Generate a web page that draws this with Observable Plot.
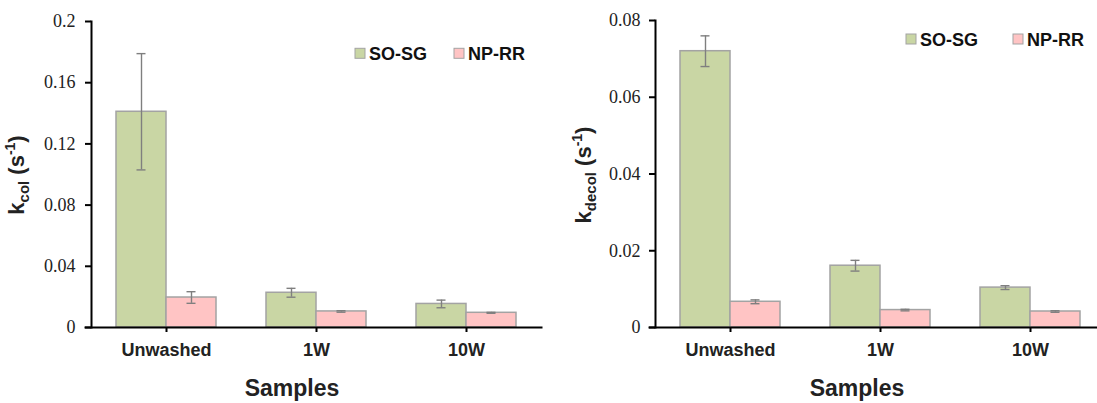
<!DOCTYPE html>
<html><head><meta charset="utf-8">
<script src="https://cdn.jsdelivr.net/npm/d3@7"></script>
<script src="https://cdn.jsdelivr.net/npm/@observablehq/plot@0.6"></script>
<style>
body{margin:0;background:#fff;overflow:hidden}
#wrap{display:flex;width:1097px;height:403px;overflow:hidden}
#left{width:548px;height:403px;overflow:hidden;flex:none}
#right{width:549px;height:403px;overflow:hidden;flex:none}
svg{max-width:none !important}
</style></head><body>
<div id="wrap"><div id="left"></div><div id="right"></div></div>
<script>
const samples = ["Unwashed", "1W", "10W"];
const series = ["SO-SG", "NP-RR"];
const colors = ["#c9d6a4", "#ffc4c4"];
const kcolSOSG = [0.141, 0.0227, 0.0154];
const kcolSOSGErr = [0.038, 0.0029, 0.0025];
const kcolNPRR = [0.0196, 0.0105, 0.0096];
const kcolNPRRErr = [0.0038, 0.0005, 0.0003];
const kdecolSOSG = [0.072, 0.0161, 0.0104];
const kdecolSOSGErr = [0.0040, 0.0014, 0.0005];
const kdecolNPRR = [0.0067, 0.00454, 0.00417];
const kdecolNPRRErr = [0.0005, 0.0002, 0.0002];
const kcolTicks = [0, 0.04, 0.08, 0.12, 0.16, 0.2];
const kdecolTicks = [0, 0.02, 0.04, 0.06, 0.08];

function makeRows(a, aErr, b, bErr) {
  const rows = [];
  samples.forEach((s, i) => {
    rows.push({sample: s, series: series[0], value: a[i], err: aErr[i]});
    rows.push({sample: s, series: series[1], value: b[i], err: bErr[i]});
  });
  return rows;
}

const SANS = "Liberation Sans, Arial, sans-serif";

function chart(o) {
  const plot = Plot.plot({
    width: o.width, height: 403,
    marginLeft: o.marginLeft, marginRight: o.marginRight, marginTop: o.marginTop, marginBottom: 76,
    style: {background: "white", overflow: "visible", maxWidth: "none"},
    fx: {domain: samples, padding: 0, label: null},
    x: {domain: series, paddingInner: 0, paddingOuter: 0.5, axis: null},
    y: {domain: [0, o.ymax], axis: null},
    color: {domain: series, range: colors},
    marks: [
      Plot.barY(o.rows, {fx: "sample", x: "series", y: "value", fill: "series", stroke: "#a3a3a3", strokeWidth: 1.5}),
      Plot.ruleX(o.rows, {fx: "sample", x: "series", y1: d => d.value - d.err, y2: d => d.value + d.err, stroke: "#7f7f7f", strokeWidth: 1.4}),
      Plot.tickY(o.rows, {fx: "sample", x: "series", y: d => d.value + d.err, stroke: "#7f7f7f", strokeWidth: 1.4, insetLeft: 20.5, insetRight: 20.5}),
      Plot.tickY(o.rows, {fx: "sample", x: "series", y: d => d.value - d.err, stroke: "#7f7f7f", strokeWidth: 1.4, insetLeft: 20.5, insetRight: 20.5}),
      Plot.axisY({ticks: o.ticks, tickFormat: d => String(d), tickSize: 6, tickPadding: o.tickPadding, fontSize: 18, fontFamily: "Liberation Serif, Times New Roman, serif", label: null, stroke: "#000", strokeWidth: 2, fill: "#222"}),
      Plot.axisFx({anchor: "bottom", tickSize: 5, tickPadding: 11, fontSize: 18, fontWeight: "bold", fontFamily: SANS, label: null, stroke: "#000", strokeWidth: 2, fill: "#222"}),
      Plot.frame({anchor: "bottom", facet: "super", stroke: "#000", strokeWidth: 2, insetLeft: -6}),
      Plot.frame({anchor: "left", facet: "super", stroke: "#000", strokeWidth: 2})
    ]
  });
  const svg = d3.select(plot);
  // y title
  const t = svg.append("text")
    .attr("transform", `translate(${o.titleX},175) rotate(-90)`)
    .attr("text-anchor", "middle").attr("font-family", SANS).attr("font-weight", "bold")
    .attr("font-size", 22).attr("fill", "#222");
  t.append("tspan").text("k");
  t.append("tspan").attr("font-size", 15).attr("dy", 5).text(o.sub);
  t.append("tspan").attr("dy", -5).text(" (s");
  t.append("tspan").attr("font-size", 14).attr("dy", -9).text("-1");
  t.append("tspan").attr("dy", 9).text(")");
  // x title
  svg.append("text").attr("x", o.samplesX).attr("y", 396).attr("text-anchor", "middle")
    .attr("font-family", SANS).attr("font-weight", "bold").attr("font-size", 23).attr("fill", "#222")
    .text("Samples");
  // legend
  series.forEach((s, i) => {
    const lx = o.legendX[i];
    svg.append("rect").attr("x", lx).attr("y", o.legendY - 5).attr("width", 10).attr("height", 10)
      .attr("fill", colors[i]).attr("stroke", "#a3a3a3").attr("stroke-width", 1);
    svg.append("text").attr("x", lx + 14).attr("y", o.legendY + 6.5).attr("text-anchor", "start")
      .attr("font-family", SANS).attr("font-weight", "bold").attr("font-size", 18).attr("fill", "#111")
      .text(s);
  });
  return plot;
}

document.getElementById("left").append(chart({
  rows: makeRows(kcolSOSG, kcolSOSGErr, kcolNPRR, kcolNPRRErr),
  ticks: kcolTicks, ymax: 0.2, width: 548, marginLeft: 90, marginRight: 6, marginTop: 21,
  tickPadding: 10, sub: "col", titleX: 24, samplesX: 292, legendX: [355, 454], legendY: 53.3
}));
document.getElementById("right").append(chart({
  rows: makeRows(kdecolSOSG, kdecolSOSGErr, kdecolNPRR, kdecolNPRRErr),
  ticks: kdecolTicks, ymax: 0.08, width: 560, marginLeft: 107, marginRight: 3, marginTop: 20,
  tickPadding: 9, sub: "decol", titleX: 43, samplesX: 309, legendX: [358, 465], legendY: 39
}));
</script>
</body></html>
